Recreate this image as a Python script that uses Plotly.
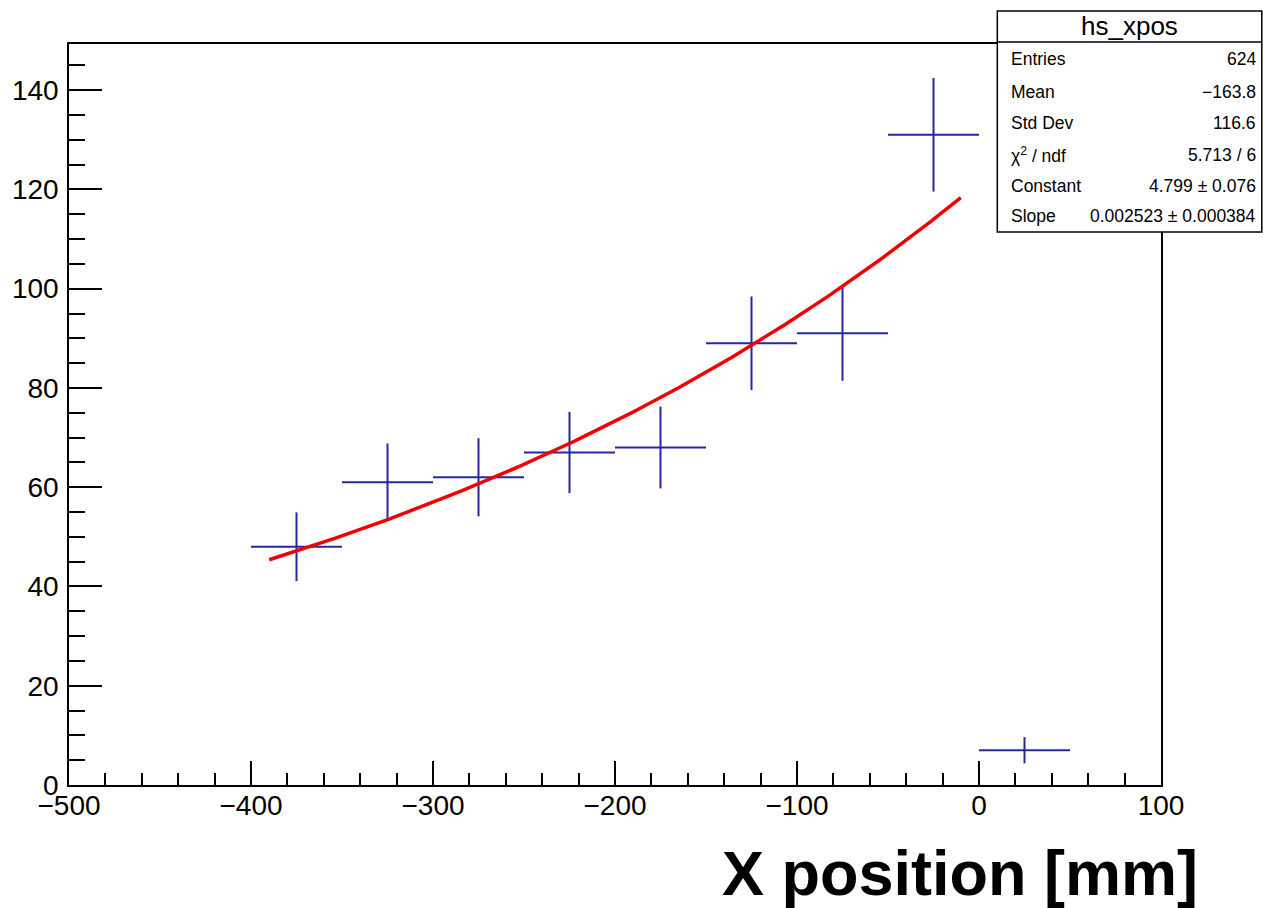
import numpy as np
import plotly.graph_objects as go

# Histogram hs_xpos: bin centres (50 mm wide bins) and counts
bin_centers = [-375, -325, -275, -225, -175, -125, -75, -25, 25]
bin_counts = [48, 61, 62, 67, 68, 89, 91, 131, 7]
bin_half_width = 25

# Exponential fit: exp(Constant + Slope * x)
fit_constant = 4.799
fit_slope = 0.002523
fit_xmin, fit_xmax = -390, -10

# Statistics box contents
stats_title = "hs_xpos"
stats_rows = [
    ("Entries", "624"),
    ("Mean", "\u2212163.8"),
    ("Std Dev", "116.6"),
    ("\u03c7<sup>2</sup> / ndf", "5.713 / 6"),
    ("Constant", "4.799 \u00b1 0.076"),
    ("Slope", "0.002523 \u00b1 0.000384"),
]

x_ticks = [-500, -400, -300, -200, -100, 0, 100]
x_tick_text = ["\u2212500", "\u2212400", "\u2212300", "\u2212200", "\u2212100", "0", "100"]
y_ticks = [0, 20, 40, 60, 80, 100, 120, 140]

W, H = 1263, 908
L, R, T, B = 67, 1161, 44, 785  # frame in pixels

counts = np.array(bin_counts, dtype=float)
errors = np.sqrt(counts)

fx = np.linspace(fit_xmin, fit_xmax, 400)
fy = np.exp(fit_constant + fit_slope * fx)

blue = "rgb(38,38,165)"

fig = go.Figure()
fig.add_trace(go.Scatter(
    x=bin_centers, y=bin_counts, mode="markers",
    marker=dict(size=1, color=blue),
    error_x=dict(type="constant", value=bin_half_width, width=0, thickness=2, color=blue),
    error_y=dict(type="data", array=errors, width=0, thickness=2, color=blue),
    hoverinfo="x+y", showlegend=False,
))
fig.add_trace(go.Scatter(
    x=fx, y=fy, mode="lines", line=dict(color="rgb(240,0,0)", width=3.5),
    showlegend=False, hoverinfo="skip",
))

font_family = "Liberation Sans, Arial, Helvetica, sans-serif"


def px_x(p):
    return (p - L) / (R - L)


def px_y(p):
    return (B - p) / (B - T)


shapes = []
annotations = []

# Statistics box
bx0, bx1, by0, by1, bsep = 997, 1262, 11, 232, 42
shapes.append(dict(type="rect", xref="paper", yref="paper",
                   x0=px_x(bx0), x1=px_x(bx1), y0=px_y(by1), y1=px_y(by0),
                   line=dict(color="black", width=1.5), fillcolor="white", layer="above"))
shapes.append(dict(type="line", xref="paper", yref="paper",
                   x0=px_x(bx0), x1=px_x(bx1), y0=px_y(bsep), y1=px_y(bsep),
                   line=dict(color="black", width=1.5), layer="above"))
annotations.append(dict(xref="paper", yref="paper", x=px_x((bx0 + bx1) / 2), y=px_y(26),
                        text=stats_title, showarrow=False, xanchor="center", yanchor="middle",
                        font=dict(family=font_family, size=26, color="black")))
row_y = [59, 92, 123, 155, 186, 216]
for (name, val), yy in zip(stats_rows, row_y):
    annotations.append(dict(xref="paper", yref="paper", x=px_x(1009), y=px_y(yy),
                            text=name, showarrow=False, xanchor="left", yanchor="middle",
                            font=dict(family=font_family, size=17.5, color="black")))
    annotations.append(dict(xref="paper", yref="paper", x=px_x(1258), y=px_y(yy),
                            text=val, showarrow=False, xanchor="right", yanchor="middle",
                            font=dict(family=font_family, size=17.5, color="black")))

# Axis title
annotations.append(dict(xref="paper", yref="paper", x=px_x(1200), y=px_y(873),
                        text="<b>X position [mm]</b>", showarrow=False,
                        xanchor="right", yanchor="middle",
                        font=dict(family=font_family, size=63, color="black")))

fig.update_layout(
    width=W, height=H,
    margin=dict(l=L, r=W - R, t=T, b=H - B, pad=0),
    paper_bgcolor="white", plot_bgcolor="white",
    font=dict(family=font_family, color="black"),
    shapes=shapes, annotations=annotations,
    xaxis=dict(
        range=[-500, 100], tickmode="array", tickvals=x_ticks, ticktext=x_tick_text,
        ticks="inside", ticklen=24, tickwidth=1.5, tickcolor="black",
        minor=dict(dtick=20, ticklen=12, tickwidth=1.5, tickcolor="black", ticks="inside", showgrid=False),
        showgrid=False, zeroline=False, showline=True, linecolor="black", linewidth=1.5,
        mirror=True, tickfont=dict(size=28, family=font_family), ticklabelstandoff=-5,
    ),
    yaxis=dict(
        range=[0, 149.3], tickmode="array", tickvals=y_ticks,
        ticks="inside", ticklen=33, tickwidth=1.5, tickcolor="black",
        minor=dict(dtick=5, ticklen=16, tickwidth=1.5, tickcolor="black", ticks="inside", showgrid=False),
        showgrid=False, zeroline=False, showline=True, linecolor="black", linewidth=1.5,
        mirror=True, tickfont=dict(size=28, family=font_family), ticklabelstandoff=3,
    ),
)

fig.write_html("out.html")
